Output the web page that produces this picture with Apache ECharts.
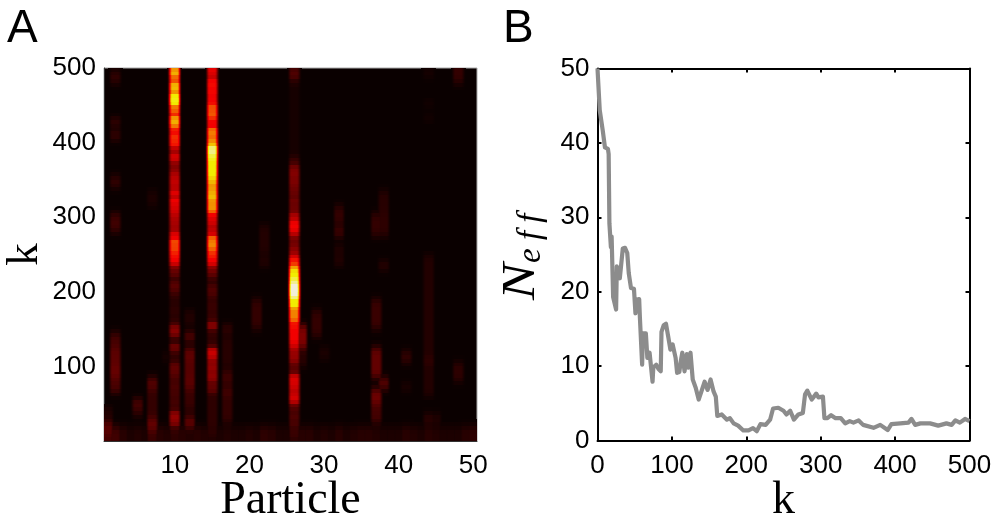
<!DOCTYPE html>
<html><head><meta charset="utf-8">
<style>html,body{margin:0;padding:0;background:#fff}#c{width:994px;height:516px}</style>
<script src="https://cdn.jsdelivr.net/npm/echarts@6/dist/echarts.min.js"></script>
</head><body><div id="c"></div>
<script>
// ---- Panel A values (percent of colour range). Rows run from k=500 downward, 5 k per row.
const col10=[62,70,56,50,70,70,58,80,82,78,55,58,42,66,68,60,44,42,50,46,48,30,24,36,34,22,20,22,28,30,32,30,28,40,28,42,36,35,34,30,28,27,26,24,38,36,56,50,52,46,44,40,34,18,16,14,7,12,14,12,8,6,5,5,6,6,5,6,9,20,22,18,7,6,18,16,8,6,7,14,15,14,12,10,10,11,10,10,9,10,9,8,22,24,22,20,8,7,6,6];
const col15=[38,36,30,42,44,40,44,38,40,42,55,52,56,48,42,38,60,60,56,62,66,92,90,84,82,78,76,78,76,72,68,62,64,66,70,62,62,64,58,38,36,34,28,32,30,60,58,62,56,48,46,42,36,20,18,14,8,6,10,12,11,8,7,8,8,7,8,8,22,22,8,7,6,7,9,32,33,30,22,22,24,21,23,22,14,15,14,7,6,6,6,6,6,6,6,6,5,6,5,4];
const col26=[10,12,11,5,3,2,2,2,2,2,2,2,2,2,2,2,2,2,2,2,2,2,2,4,8,9,18,20,21,19,20,18,17,16,14,18,16,17,16,28,29,40,42,38,30,18,17,18,22,24,34,46,48,66,74,78,85,90,97,98,97,90,78,80,62,60,61,58,42,44,42,40,41,38,34,26,24,24,22,14,14,12,34,36,35,33,30,32,36,30,14,12,10,12,10,11,8,8,8,6];
// Faint bands: [particle, k from, k to, level]
const faintBands=[
[1,10,25,14],[1,25,45,4],
[2,480,495,7],[2,425,430,15],[2,405,415,9],[2,340,355,7],[2,280,305,9],[2,125,145,10],[2,100,125,14],[2,85,100,16],[2,65,85,11],
[5,50,55,16],[5,35,50,8],
[7,70,85,13],[7,30,70,7],[7,15,30,16],[7,315,335,3],
[9,110,115,5],
[12,135,145,15],[12,110,122,15],[12,82,110,13],[12,72,82,14],[12,45,72,8],[12,22,30,18],[12,155,175,4],[12,30,45,5],
[17,145,152,8],[17,78,95,9],[17,65,70,16],[17,25,65,7],[17,100,140,5],
[21,150,190,7],[22,250,290,4],[22,235,245,5],
[27,125,152,20],[27,100,125,5],
[29,140,175,7],[30,110,125,3],
[32,290,315,7],[32,275,285,11],[32,255,260,8],[32,235,250,4],
[37,150,190,8],[37,85,125,15],[37,50,70,17],[37,25,50,10],[37,275,305,7],
[38,295,335,5],[38,275,305,6],[38,230,240,6],[38,70,82,13],
[41,105,120,7],[41,70,75,6],
[44,490,495,5],[44,60,250,4],[44,105,110,9],[44,25,35,7],[44,450,455,3],[44,430,435,3],
[45,25,35,5],
[48,480,498,7],[48,80,105,6]
];
// Bottom strip (k below 20) per particle 1..50
const bottomStrip=[10,9,5,3,4,3,8,5,4,3,5,4,5,4,3,3,4,3,3,4,3,6,5,3,3,6,5,5,3,4,3,5,3,4,5,5,4,3,3,3,5,4,3,5,4,3,3,3,5,6];
// ---- Panel B values
const kSteps=[0,3,7,10,14,15,16,18,19,21,25,26,30,34,37,40,42,45,49,51,52,56,57,60,61,65,67,70,74,75,79,82,85,86,89,92,95,98,101,105,107,110,112,114,117,120,122,125,127,128,132,136,138,144,148,152,156,159,161,167,174,178,183,189,196,203,209,214,219,226,232,236,243,250,254,259,264,270,276,279,282,288,294,297,303,305,309,314,320,327,333,339,344,351,357,371,380,390,395,407,418,422,427,434,447,458,469,476,481,487,494,500];
const neff=[50,44.4,41.7,39.4,39.2,38.5,29.2,26,27.4,19.3,17.6,23.4,21.8,25.8,25.9,25.2,22.5,20.5,20.4,17.1,18.9,19,16.5,10.2,14.4,14.4,11.1,11.8,7.9,9.8,10.2,9.6,9.3,14.6,15.5,15.7,14,12.2,12.9,11.1,9.1,9.2,10.7,11.8,9.3,11.6,9.8,11.8,12,8.2,7.1,5.5,5.7,7.9,6.8,8.2,6.6,5.9,3.3,3.5,2.8,3,2.3,2,1.35,1.35,1.65,1.25,2.2,2.1,2.8,4.3,4.4,4,3.5,4,2.8,3.5,3.7,6.2,6.7,5.5,6.3,5.8,5.9,3,3,3.4,3,3,2.3,2.6,2.4,2.7,2.1,1.7,2.1,1.4,2.2,2.3,2.4,2.9,2.1,2.3,2.3,2,2.3,2.1,2.7,2.4,2.9,2.6];
const particleTicks=[10,20,30,40,50];
const stepTicks=[100,200,300,400,500];
const fullColumns={10:col10,15:col15,26:col26};

const rowCount=100,colCount=50,kPerRow=5;
const raw=[];
for(let c=0;c<colCount;c++){raw.push(new Array(rowCount).fill(0));}
faintBands.forEach(([c,a,b,v])=>{
  for(let r=0;r<rowCount;r++){
    const hi=500-r*kPerRow, lo=hi-kPerRow;
    if(hi>a&&lo<b) raw[c-1][r]=Math.max(raw[c-1][r],v);
  }
});
for(let c=0;c<colCount;c++){for(let r=96;r<rowCount;r++){raw[c][r]=Math.max(raw[c][r],bottomStrip[c]);}}
function soften(col,w){
  return col.map((v,r)=>w*(col[r-1]===undefined?v:col[r-1])+(1-2*w)*v+w*(col[r+1]===undefined?v:col[r+1]));
}
const matrix=raw.map((col,ci)=>{
  if(fullColumns[ci+1]) return soften(fullColumns[ci+1],0.15);
  return soften(soften(col,0.25),0.25);
});

function hot(p){
  const t=Math.max(0,Math.min(1,p/100));
  const R=Math.min(0.95,0.04+t/0.42*0.96),G=Math.max(0,Math.min(0.93,(t-0.42)/0.36)),B=Math.max(0,Math.min(0.85,(t-0.8)/0.18));
  return 'rgb('+Math.round(R*255)+','+Math.round(G*255)+','+Math.round(B*255)+')';
}
function falloff(d){
  if(d<=0.35) return 1;
  if(d>=1) return 0;
  const u=(d-0.35)/0.65;
  return 1-u*u*(3-2*u);
}
const cells=[];
for(let c=0;c<=colCount;c++){
  for(let r=0;r<rowCount;r++){
    const a=c===0?matrix[0][r]:matrix[c-1][r];
    const b=c===colCount?matrix[colCount-1][r]:matrix[c][r];
    if(a<0.3&&b<0.3) continue;
    const x0=c===0?0.5:c, x1=c===colCount?colCount+0.5:c+1;
    cells.push([x0,x1,500-(r+1)*kPerRow,500-r*kPerRow,a,b]);
  }
}
function renderCell(params,api){
  const p0=api.coord([api.value(0),api.value(3)]);
  const p1=api.coord([api.value(1),api.value(2)]);
  const a=api.value(4),b=api.value(5);
  const stops=[];
  for(let i=0;i<=12;i++){const t=i/12;stops.push({offset:t,color:hot(Math.max(a*falloff(t),b*falloff(1-t)))});}
  const x=Math.round(p0[0]),y=Math.round(p0[1]);
  return {type:'rect',shape:{x:x,y:y,width:Math.round(p1[0])-x,height:Math.round(p1[1])-y},
    style:{fill:new echarts.graphic.LinearGradient(0,0,1,0,stops)},silent:true};
}
const sans='"Liberation Sans",Arial,sans-serif', serif='"Liberation Serif",serif';
const labelStyle={fontFamily:sans,fontSize:26,color:'#000'};
const blackLine={lineStyle:{color:'#000',width:2}};
const chart=echarts.init(document.getElementById('c'),null,{renderer:'canvas'});
chart.setOption({
  animation:false,backgroundColor:'#fff',
  title:[
    {text:'A',left:7,top:6,textStyle:{fontFamily:sans,fontSize:46,fontWeight:'normal',color:'#000'},padding:0},
    {text:'B',left:503,top:6,textStyle:{fontFamily:sans,fontSize:46,fontWeight:'normal',color:'#000'},padding:0}
  ],
  grid:[
    {left:104,top:68,width:373,height:373,show:true,backgroundColor:'#0a0000',borderColor:'#aaa',borderWidth:1,outerBoundsMode:'none'},
    {left:597.5,top:68.5,width:372,height:372,outerBoundsMode:'none'}
  ],
  xAxis:[
    {gridIndex:0,type:'value',min:0.5,max:50.5,splitLine:{show:false},
     axisLine:{show:true,lineStyle:{color:'#333',width:1}},axisTick:{show:false},
     axisLabel:Object.assign({customValues:particleTicks,margin:12},labelStyle),
     name:'Particle',nameLocation:'middle',nameGap:37,nameMoveOverlap:false,nameTextStyle:{fontFamily:serif,fontSize:46,color:'#000'}},
    {gridIndex:1,type:'value',min:0,max:500,interval:100,splitLine:{show:false},
     axisLine:{show:true,onZero:false,...blackLine},axisTick:{inside:true,length:4,...blackLine},
     axisLabel:Object.assign({margin:12},labelStyle),
     name:'k',nameLocation:'middle',nameGap:37,nameMoveOverlap:false,nameTextStyle:{fontFamily:serif,fontSize:46,color:'#000'}},
    {gridIndex:1,type:'value',position:'top',min:0,max:500,interval:100,splitLine:{show:false},
     axisLine:{show:true,onZero:false,...blackLine},axisTick:{inside:true,length:4,...blackLine},axisLabel:{show:false}}
  ],
  yAxis:[
    {gridIndex:0,type:'value',min:0,max:500,splitLine:{show:false},
     axisLine:{show:true,lineStyle:{color:'#333',width:1}},axisTick:{show:false},
     axisLabel:Object.assign({customValues:stepTicks,margin:8,padding:[7,0,0,0]},labelStyle),
     name:'k',nameLocation:'middle',nameRotate:90,nameGap:56,nameMoveOverlap:false,nameTextStyle:{fontFamily:serif,fontSize:45,color:'#000'}},
    {gridIndex:1,type:'value',min:0,max:50,interval:10,splitLine:{show:false},
     axisLine:{show:true,onZero:false,...blackLine},axisTick:{inside:true,length:4,...blackLine},
     axisLabel:Object.assign({margin:8,padding:[7,0,0,0]},labelStyle)},
    {gridIndex:1,type:'value',position:'right',min:0,max:50,interval:10,splitLine:{show:false},
     axisLine:{show:true,onZero:false,...blackLine},axisTick:{inside:true,length:4,...blackLine},axisLabel:{show:false}}
  ],
  graphic:[
    {type:'text',x:545,y:300,rotation:Math.PI/2,scaleX:1.2,silent:true,style:{text:'N',font:'italic 46px '+serif,fill:'#000',textVerticalAlign:'bottom'}},
    {type:'text',x:548,y:263,rotation:Math.PI/2,silent:true,style:{text:'e f f',font:'italic 33px '+serif,fill:'#000',textVerticalAlign:'bottom'}}
  ],
  series:[
    {type:'custom',xAxisIndex:0,yAxisIndex:0,coordinateSystem:'cartesian2d',renderItem:renderCell,data:cells,silent:true,progressive:0,encode:{x:[0,1],y:[2,3]}},
    {type:'line',xAxisIndex:1,yAxisIndex:1,data:kSteps.map((k,i)=>[k,neff[i]]),showSymbol:false,symbol:'none',
     lineStyle:{color:'#8c8c8c',width:4.2,join:'round'},z:1}
  ]
});
</script></body></html>
